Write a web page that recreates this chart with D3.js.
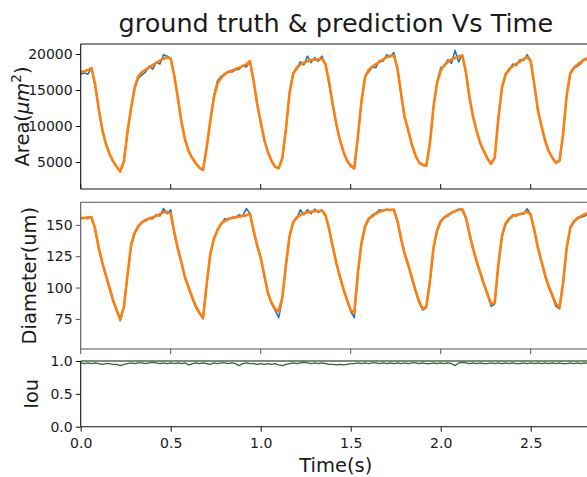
<!DOCTYPE html>
<html>
<head>
<meta charset="utf-8">
<script src="https://cdn.jsdelivr.net/npm/d3@7/dist/d3.min.js"></script>
<style>
  body { margin: 0; background: #fff; }
  text { font-family: "DejaVu Sans", sans-serif; fill: #1a1a1a; }
</style>
</head>
<body>
<div id="chart"></div>
<script>
// samples every 0.02 s
var dt = 0.02;

var areaTrue = [
  17200,17350,17200,18100,15600,12300,9400,7500,6100,5050,
  4300,3650,5200,9100,12600,15200,16600,17100,17500,18300,
  17900,18900,18600,19900,19700,19400,16900,13800,10600,8000,
  6400,5500,4750,4150,3850,7000,10600,14200,16300,16900,
  17100,17600,17500,17800,17900,18400,18200,19000,16300,13000,
  10400,8000,6300,5150,4300,4100,5400,9600,14700,17400,
  17900,18900,18500,19700,18800,19500,19000,19700,18500,15800,
  12900,10200,8000,6300,5100,4350,4050,8400,13400,16900,
  17500,18200,18100,19100,19000,19900,19600,20200,17900,14300,
  11000,9300,7300,5800,4900,4550,4450,7500,12600,16100,
  18100,18300,19200,18700,20500,18900,19900,17400,13900,11200,
  9200,7500,6400,5400,4700,5500,10900,15200,17300,17700,
  18600,18400,19200,19100,19900,19100,15700,12100,9900,7900,
  6400,5500,4850,5100,8800,14200,17200,18000,18300,18700,
  19300,19100
];
var areaPred = [
  17500,17600,17800,18050,15800,12400,9500,7500,6150,5100,
  4350,3700,5100,9200,12500,15400,16900,17500,17800,18150,
  18450,18750,19070,19350,19540,19350,17000,13900,10500,8100,
  6500,5550,4800,4200,3900,7100,10700,14000,15900,16700,
  17250,17500,17700,17900,18100,18350,18550,19000,16400,13100,
  10600,8100,6400,5200,4350,4150,5500,9500,14500,17200,
  18100,18550,18800,19000,19150,19220,19280,19350,18600,16100,
  13000,10300,8100,6400,5200,4500,4150,8600,13500,16800,
  17800,18250,18600,18900,19250,19550,19750,19800,18000,14500,
  11200,9400,7400,5900,4950,4600,4500,7600,12700,16000,
  17700,18450,18900,19250,19450,19650,19800,17500,14000,11300,
  9300,7600,6500,5500,4800,5600,11000,15300,17100,17900,
  18300,18650,18950,19300,19600,19000,15800,12200,10000,8000,
  6500,5600,4950,5200,8900,14300,17350,18100,18550,18900,
  19250,19450
];

var diamTrue = [
  155,155.5,155,156.5,146,131,119,109,99,89,
  81,73.5,84,109,133,143,148,152,153,155,
  155,158,157,163,159,162,143,130,119,107,
  99,91,84,79,75,102,126,139,146,150,
  155,154,156,156,158,157,163,159,145,133,
  123,109,95,87,82,76,91,117,140,152,
  155,162,158,162,159,162.5,160,162,157,146,
  132,119,108,98,89,81,76,111,135,148,
  154,158,159.5,162,161,162.5,161.5,162.5,152,138,
  126,117,107,97,88,82,84,104,131,145,
  152,156,157,160,160.5,162.5,162,155,142,130,
  120,111,102,94,85,87,117,140,150,154,
  158,157,159,158.5,163,158.5,145,131,120,109,
  100,93,85,83,103,131,147,152,156,156,
  157,159
];
var diamPred = [
  155.5,155.5,156,156,147,132,120,110,100,90,
  82,74.5,85,110,134,144,149,152,154,155,
  156,157,158.5,160,160.5,159,144,131,120,108,
  100,92,85,80,76,103,127,139,146,151,
  153,155,155.5,156,156.5,157,157.5,159,146,134,
  124,110,96,88,83,81,92,118,141,152,
  156,158,159,160,160.5,161,161,161.5,158,147,
  133,120,109,99,90,82,80,112,136,149,
  155,157,159,160.5,161.5,162,162,162,153,139,
  127,118,108,98,89,83,85,105,132,146,
  153,156,158,159.5,161,162,162.5,156,143,131,
  121,112,103,95,87,88,118,141,151,155,
  157,158,158.5,159.5,160.5,158,146,132,121,110,
  101,94,87,84,104,132,148,153,155,157,
  158.5,159.5
];

var iou = [
  0.97,0.96,0.97,0.96,0.97,0.96,0.95,0.96,0.96,0.95,
  0.95,0.93,0.95,0.96,0.97,0.96,0.97,0.97,0.96,0.97,
  0.98,0.97,0.96,0.97,0.96,0.97,0.96,0.97,0.96,0.97,
  0.94,0.96,0.97,0.96,0.97,0.96,0.95,0.97,0.96,0.97,
  0.97,0.96,0.97,0.96,0.93,0.96,0.97,0.96,0.96,0.95,
  0.96,0.95,0.96,0.95,0.96,0.94,0.93,0.95,0.96,0.97,
  0.96,0.97,0.98,0.97,0.96,0.97,0.96,0.97,0.96,0.95,
  0.95,0.94,0.95,0.94,0.95,0.96,0.96,0.97,0.96,0.97,
  0.96,0.97,0.97,0.96,0.97,0.96,0.97,0.96,0.97,0.96,
  0.97,0.96,0.97,0.97,0.96,0.97,0.96,0.96,0.97,0.96,
  0.97,0.96,0.97,0.96,0.93,0.97,0.98,0.97,0.96,0.97,
  0.96,0.97,0.96,0.96,0.97,0.96,0.97,0.96,0.97,0.96,
  0.97,0.96,0.96,0.97,0.96,0.97,0.96,0.97,0.96,0.97,
  0.96,0.97,0.96,0.97,0.96,0.96,0.97,0.96,0.97,0.96,
  0.97,0.96
];

var xTicks = [0, 0.5, 1.0, 1.5, 2.0, 2.5];
var areaTicks = [5000, 10000, 15000, 20000];
var diamTicks = [75, 100, 125, 150];
var iouTicks = [0, 0.5, 1.0];

var W = 587, H = 477;
var left = 80.7, right = 591;

var svg = d3.select("#chart")
  .append("svg")
    .attr("width", W)
    .attr("height", H);

var x = d3.scaleLinear().domain([0, 2.835]).range([left, right]);

var panels = [
  {id: "area", top: 44, bottom: 189, domain: [1250, 21389], ticks: areaTicks, fmt: d3.format("d"),
   spine: "#111", xTick: "in",
   series: [{v: areaTrue, c: "#1f77b4", w: 1.6}, {v: areaPred, c: "#ff7f0e", w: 2.6}]},
  {id: "diam", top: 202.3, bottom: 349, domain: [51, 168], ticks: diamTicks, fmt: d3.format("d"),
   spine: "#555", xTick: "out",
   series: [{v: diamTrue, c: "#1f77b4", w: 1.6}, {v: diamPred, c: "#ff7f0e", w: 2.6}]},
  {id: "iou", top: 361, bottom: 426.7, domain: [0, 1], ticks: iouTicks, fmt: d3.format(".1f"),
   spine: "#111", xTick: "labels",
   series: [{v: iou, c: "#2a6a2c", w: 1.3}]}
];

panels.forEach(function(p) {
  var y = d3.scaleLinear().domain(p.domain).range([p.bottom, p.top]);

  svg.append("clipPath").attr("id", "clip-" + p.id)
    .append("rect")
      .attr("x", left).attr("y", p.top)
      .attr("width", right - left).attr("height", p.bottom - p.top);

  var line = d3.line()
    .x(function(d, i) { return x(i * dt); })
    .y(function(d) { return y(d); });

  p.series.forEach(function(s) {
    svg.append("path")
      .datum(s.v)
      .attr("clip-path", "url(#clip-" + p.id + ")")
      .attr("fill", "none")
      .attr("stroke", s.c)
      .attr("stroke-width", s.w)
      .attr("stroke-linejoin", "round")
      .attr("d", line);
  });

  // spines
  var g = svg.append("g").attr("stroke", p.spine).attr("stroke-width", 1.1);
  g.append("line").attr("x1", left).attr("x2", right).attr("y1", p.top).attr("y2", p.top);
  g.append("line").attr("x1", left).attr("x2", right).attr("y1", p.bottom).attr("y2", p.bottom);
  g.append("line").attr("x1", left).attr("x2", left).attr("y1", p.top).attr("y2", p.bottom);

  // y axis
  var ya = svg.append("g")
    .attr("transform", "translate(" + left + ",0)")
    .call(d3.axisLeft(y).tickValues(p.ticks).tickFormat(p.fmt).tickSize(5).tickPadding(3));
  ya.select(".domain").remove();
  ya.selectAll("line").attr("stroke", p.spine);
  ya.selectAll("text").style("font-size", "14px").attr("fill", "#1a1a1a");

  // x axis
  if (p.xTick == "labels") {
    var xa = svg.append("g")
      .attr("transform", "translate(0," + p.bottom + ")")
      .call(d3.axisBottom(x).tickValues(xTicks).tickFormat(d3.format(".1f")).tickSize(5).tickPadding(6));
    xa.select(".domain").remove();
    xa.selectAll("line").attr("stroke", p.spine);
    xa.selectAll("text").style("font-size", "14px").attr("fill", "#1a1a1a");
  } else {
    var dir = p.xTick == "in" ? -5 : 5;
    svg.append("g").selectAll("line")
      .data(xTicks)
      .enter()
      .append("line")
        .attr("x1", function(d) { return x(d); })
        .attr("x2", function(d) { return x(d); })
        .attr("y1", p.bottom)
        .attr("y2", p.bottom + dir)
        .attr("stroke", p.spine);
  }
});

// title and axis labels
svg.append("text")
  .attr("x", (left + right) / 2).attr("y", 32)
  .attr("text-anchor", "middle")
  .style("font-size", "25.5px")
  .text("ground truth & prediction Vs Time");

svg.append("text")
  .attr("x", (left + right) / 2).attr("y", 472)
  .attr("text-anchor", "middle")
  .style("font-size", "19.5px")
  .text("Time(s)");

var al = svg.append("text")
  .attr("transform", "translate(29,116.5) rotate(-90)")
  .attr("text-anchor", "middle")
  .style("font-size", "19.5px");
al.append("tspan").text("Area(");
al.append("tspan").style("font-style", "italic").text("μm");
al.append("tspan").attr("dy", -8).style("font-size", "13.5px").text("2");
al.append("tspan").attr("dy", 8).text(")");

svg.append("text")
  .attr("transform", "translate(35.5,275.6) rotate(-90)")
  .attr("text-anchor", "middle")
  .style("font-size", "19.5px")
  .text("Diameter(um)");

svg.append("text")
  .attr("transform", "translate(37.5,393.8) rotate(-90)")
  .attr("text-anchor", "middle")
  .style("font-size", "19.5px")
  .text("Iou");
</script>
</body>
</html>
